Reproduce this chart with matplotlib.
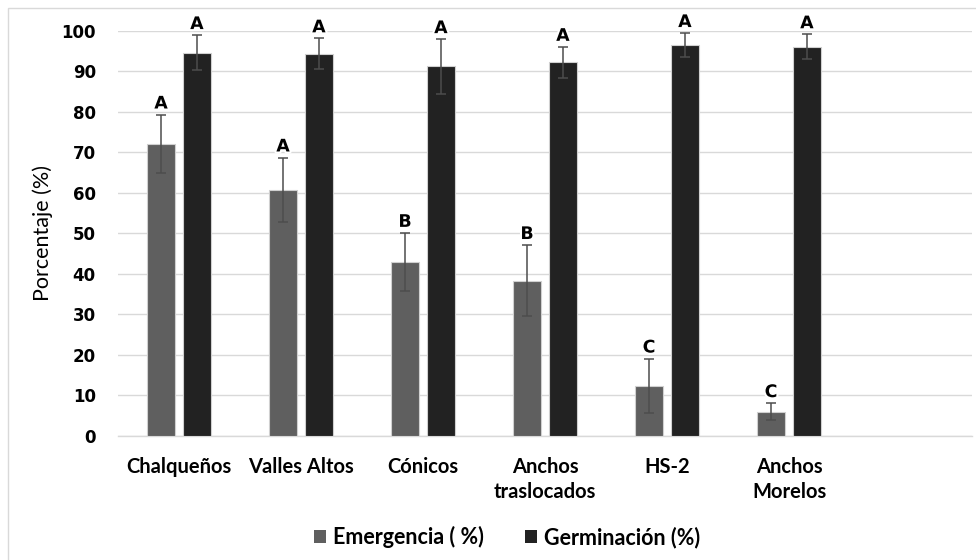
import matplotlib
matplotlib.use("Agg")
import matplotlib.pyplot as plt
import matplotlib.patheffects as pe
from matplotlib.patches import Patch, Rectangle
import numpy as np

# Data
categories = ["Chalqueños", "Valles Altos", "Cónicos", "Anchos\ntraslocados",
              "HS-2", "Anchos\nMorelos"]
emergencia = [72.1, 60.8, 42.9, 38.3, 12.4, 6.0]
emergencia_err = [7.2, 7.9, 7.2, 8.8, 6.7, 2.1]
germinacion = [94.6, 94.3, 91.2, 92.2, 96.5, 96.0]
germinacion_err = [4.3, 3.8, 6.7, 3.8, 2.9, 3.1]
letters_em = ["A", "A", "B", "B", "C", "C"]
letters_germ = ["A", "A", "A", "A", "A", "A"]
yticks = [0, 10, 20, 30, 40, 50, 60, 70, 80, 90, 100]

W, H = 976, 560
fig = plt.figure(figsize=(W / 100, H / 100), dpi=100)
ax = fig.add_axes([118 / W, 1 - 436 / H, (972 - 118) / W, (436 - 30.7) / H])

# outer chart frame
fig.patches.append(Rectangle((8 / W, -0.05), 1.1, 1 - 8 / H + 0.05,
                             transform=fig.transFigure, fill=False,
                             edgecolor="#d9d9d9", linewidth=1.0))

x = np.arange(len(categories))
bw = 0.225
off = 0.147
c_em = "#5f5f5f"
c_germ = "#222222"

ax.bar(x - off, emergencia, bw, color=c_em, edgecolor="#d0d0d0", linewidth=0.8, zorder=3)
ax.bar(x + off, germinacion, bw, color=c_germ, edgecolor="#d0d0d0", linewidth=0.8, zorder=3)
ax.errorbar(x - off, emergencia, yerr=emergencia_err, fmt="none", ecolor="#4d4d4d",
            elinewidth=1.1, capsize=3.3, capthick=1.1, zorder=4)
ax.errorbar(x + off, germinacion, yerr=germinacion_err, fmt="none", ecolor="#4d4d4d",
            elinewidth=1.1, capsize=3.3, capthick=1.1, zorder=4)

halo = [pe.withStroke(linewidth=3, foreground="white")]
for xs, vals, errs, labs in [(x - off, emergencia, emergencia_err, letters_em),
                             (x + off, germinacion, germinacion_err, letters_germ)]:
    for xi, v, e, t in zip(xs, vals, errs, labs):
        ax.annotate(t, (xi, v + e), xytext=(0, 1.5), textcoords="offset points",
                    ha="center", va="bottom", fontsize=12.5, fontweight="bold",
                    family="DejaVu Sans", color="black", path_effects=halo,
                    zorder=5, annotation_clip=False)

ax.set_xlim(-0.5, len(categories) + 0.5)
ax.set_ylim(0, 100)
ax.set_yticks(yticks)
ax.set_yticklabels([str(t) for t in yticks], fontsize=12, fontweight="bold",
                   family="DejaVu Sans")
ax.set_xticks(x)
ax.set_xticklabels(categories, fontsize=14.5, fontweight="bold", family="Lato",
                   linespacing=1.3, va="top")
ax.tick_params(axis="both", length=0)
ax.tick_params(axis="x", pad=15)
ax.tick_params(axis="y", pad=16)
ax.yaxis.grid(True, color="#d9d9d9", linewidth=1.0, zorder=0)
ax.set_axisbelow(True)
for s in ["top", "right", "left"]:
    ax.spines[s].set_visible(False)
ax.spines["bottom"].set_color("#d9d9d9")
ax.spines["bottom"].set_linewidth(1.0)

ax.set_ylabel("Porcentaje (%)", fontsize=15.5, family="Lato", labelpad=6)

handles = [Patch(facecolor=c_em, edgecolor="none", label="Emergencia ( %)"),
           Patch(facecolor=c_germ, edgecolor="none", label="Germinación (%)")]
fig.legend(handles=handles, loc="center", bbox_to_anchor=(507 / W, 1 - 537 / H),
           ncol=2, frameon=False, prop={"family": "Lato", "weight": "bold", "size": 15.5},
           handlelength=0.55, handleheight=0.55, handletextpad=0.35, columnspacing=1.9)

fig.savefig("out.png", dpi=100)
